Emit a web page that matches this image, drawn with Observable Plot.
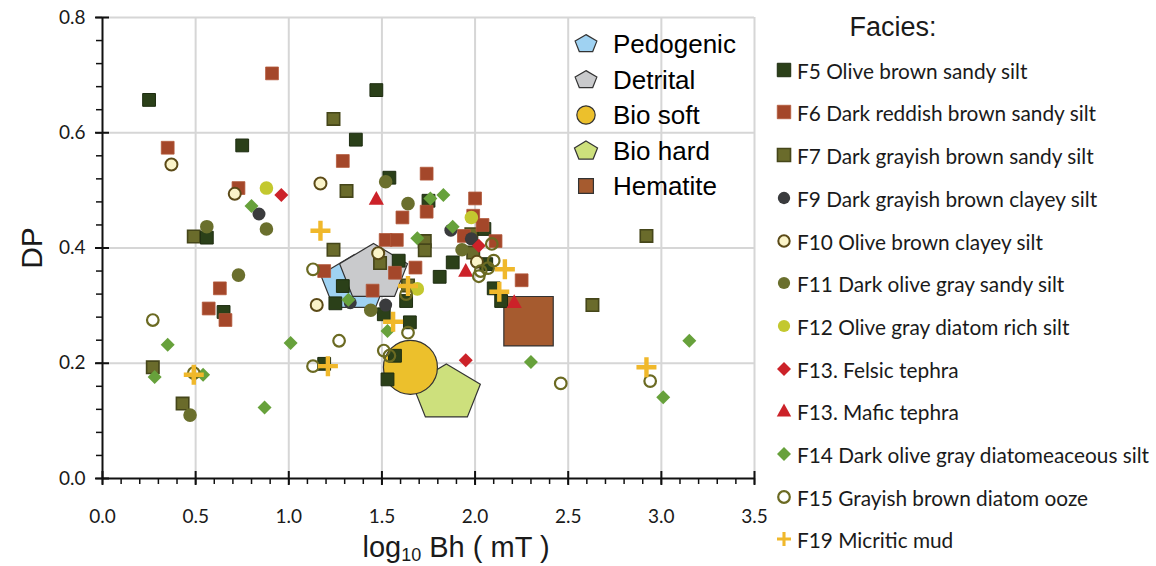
<!DOCTYPE html>
<html><head><meta charset="utf-8">
<script src="https://cdn.jsdelivr.net/npm/d3@7"></script>
<script src="https://cdn.jsdelivr.net/npm/@observablehq/plot@0.6"></script>
<style>
body{margin:0;background:#fff;}
#wrap{position:relative;width:1156px;height:566px;overflow:hidden;background:#fff;}
#wrap svg.plot{position:absolute;left:0;top:0;}
.lg{position:absolute;white-space:nowrap;}
.lg .mk{position:absolute;width:0;height:0;}
.lg .tx{position:absolute;transform:translateY(-50%);}
</style></head><body><div id="wrap"></div>
<script>
// ---------------- data ----------------
const F5 = [[0.25,0.657],[0.75,0.578],[1.36,0.588],[1.47,0.674],[1.54,0.522],[0.56,0.418],[0.65,0.289],[1.19,0.199],[1.29,0.334],[1.25,0.304],[1.59,0.378],[1.51,0.285],[1.63,0.308],[1.88,0.375],[1.81,0.350],[1.65,0.271],[1.57,0.213],[1.53,0.172],[1.75,0.482],[2.10,0.330],[2.14,0.308],[2.05,0.433],[2.06,0.372]];
const F6 = [[0.91,0.703],[0.35,0.574],[1.29,0.551],[0.73,0.504],[1.74,0.529],[1.61,0.453],[1.74,0.463],[2.00,0.486],[1.99,0.456],[2.04,0.440],[1.52,0.414],[1.58,0.414],[1.19,0.360],[1.68,0.366],[1.57,0.357],[1.45,0.326],[0.63,0.330],[0.57,0.295],[0.66,0.275],[1.94,0.421],[2.11,0.412],[2.25,0.344]];
const F7 = [[1.24,0.624],[1.31,0.499],[0.49,0.420],[1.24,0.397],[1.49,0.374],[1.73,0.412],[1.73,0.396],[1.64,0.335],[1.98,0.424],[1.99,0.392],[2.92,0.421],[2.63,0.301],[0.27,0.193],[0.43,0.130]];
const F9 = [[0.84,0.459],[1.33,0.305],[1.52,0.301],[1.87,0.431],[1.98,0.416]];
const F10 = [[0.37,0.545],[0.71,0.494],[1.17,0.512],[1.48,0.391],[1.15,0.301],[2.01,0.376]];
const F11 = [[0.56,0.437],[0.88,0.433],[0.73,0.353],[0.47,0.110],[1.52,0.515],[1.64,0.477],[1.44,0.292],[1.93,0.397]];
const F12 = [[0.88,0.504],[1.98,0.453],[1.69,0.329]];
const F13felsic = [[0.96,0.492],[2.02,0.404],[1.95,0.205]];
const F13mafic = [[1.47,0.485],[1.95,0.360],[2.21,0.306]];
const F14 = [[0.80,0.473],[1.76,0.486],[1.83,0.492],[1.88,0.437],[1.69,0.417],[1.32,0.310],[1.53,0.256],[0.35,0.232],[1.01,0.235],[0.28,0.176],[0.54,0.180],[0.87,0.123],[2.30,0.202],[3.15,0.239],[3.01,0.141]];
const F15 = [[0.27,0.275],[1.13,0.363],[1.27,0.239],[1.13,0.195],[0.49,0.183],[1.63,0.320],[1.64,0.253],[1.51,0.222],[1.54,0.213],[2.09,0.407],[2.10,0.378],[2.03,0.360],[2.02,0.351],[2.07,0.365],[2.46,0.165],[2.94,0.169]];
const F19 = [[1.17,0.430],[1.21,0.195],[0.49,0.180],[1.64,0.334],[1.56,0.272],[2.16,0.363],[2.13,0.324],[2.92,0.193]];

const pedogenic = [[1.353,0.338]];
const detrital = [[1.455,0.357]];
const bioSoft = [[1.653,0.193]];
const bioHard = [[1.846,0.148]];
const hematite = [[2.287,0.273]];

const xMajor = [0,0.5,1.0,1.5,2.0,2.5,3.0,3.5];
const xMinor = d3.range(0,36).map(i=>i/10);
const yMajor = [0,0.2,0.4,0.6,0.8];
const yMinor = d3.range(0,21).map(i=>i*0.04);

const faciesLabels = ["F5 Olive brown sandy silt","F6 Dark reddish brown sandy silt","F7 Dark grayish brown sandy silt","F9 Dark grayish brown clayey silt","F10 Olive brown clayey silt","F11 Dark olive gray sandy silt","F12 Olive gray diatom rich silt","F13. Felsic tephra","F13. Mafic tephra","F14 Dark olive gray diatomeaceous silt","F15 Grayish brown diatom ooze","F19 Micritic mud"];
const sourceLabels = ["Pedogenic","Detrital","Bio soft","Bio hard","Hematite"];

// ---------------- symbols ----------------
const R = s => Math.sqrt(s/Math.PI);
const symSquare = {draw(c,s){const r=R(s);c.rect(-r,-r,2*r,2*r);}};
const symDiamond = {draw(c,s){const r=R(s);c.moveTo(0,-r);c.lineTo(r,0);c.lineTo(0,r);c.lineTo(-r,0);c.closePath();}};
const symTri = {draw(c,s){const r=R(s);c.moveTo(0,-r);c.lineTo(r*0.95,r*0.72);c.lineTo(-r*0.95,r*0.72);c.closePath();}};
const symPent = {draw(c,s){const r=R(s);for(let k=0;k<5;k++){const a=(-90+72*k)*Math.PI/180;const px=r*Math.cos(a), py=r*0.82*Math.sin(a);k?c.lineTo(px,py):c.moveTo(px,py);}c.closePath();}};
const symPlus = {draw(c,s){const r=R(s), t=r*0.22;c.moveTo(-t,-r);c.lineTo(t,-r);c.lineTo(t,-t);c.lineTo(r,-t);c.lineTo(r,t);c.lineTo(t,t);c.lineTo(t,r);c.lineTo(-t,r);c.lineTo(-t,t);c.lineTo(-r,t);c.lineTo(-r,-t);c.lineTo(-t,-t);c.closePath();}};
const symCircle = {draw(c,s){const r=R(s);c.moveTo(r,0);c.arc(0,0,r,0,2*Math.PI);}};

const style = {
  F5:{symbol:symSquare,r:6.4,fill:"#2b4019",stroke:"#1d2c10",strokeWidth:1},
  F6:{symbol:symSquare,r:6.4,fill:"#a4472a",stroke:"#b2583a",strokeWidth:0.8},
  F7:{symbol:symSquare,r:6.2,fill:"#6a6b2b",stroke:"#45461a",strokeWidth:1.6},
  F9:{symbol:symCircle,r:6.5,fill:"#3a3b3d",stroke:"none",strokeWidth:0},
  F10:{symbol:symCircle,r:6,fill:"#fbf4c9",stroke:"#5b4a17",strokeWidth:2},
  F11:{symbol:symCircle,r:6.8,fill:"#6a6f2d",stroke:"none",strokeWidth:0},
  F12:{symbol:symCircle,r:6.8,fill:"#c3c82f",stroke:"none",strokeWidth:0},
  F13f:{symbol:symDiamond,r:7,fill:"#cc2229",stroke:"none",strokeWidth:0},
  F13m:{symbol:symTri,r:8,fill:"#cc2229",stroke:"none",strokeWidth:0},
  F14:{symbol:symDiamond,r:7,fill:"#67a13b",stroke:"none",strokeWidth:0},
  F15:{symbol:symCircle,r:5.8,fill:"none",stroke:"#6b6a22",strokeWidth:2.2},
  F19:{symbol:symPlus,r:10,fill:"#f0b82b",stroke:"none",strokeWidth:0}
};
const big = {
  Pedogenic:{symbol:symPent,r:35.7,fill:"#9fd2f2",stroke:"#333",strokeWidth:1.2},
  Detrital:{symbol:symPent,r:35.7,fill:"#c9cacc",stroke:"#333",strokeWidth:1.2},
  "Bio soft":{symbol:symCircle,r:27,fill:"#ecc02c",stroke:"#333",strokeWidth:1.2},
  "Bio hard":{symbol:symPent,r:35.7,fill:"#cde07c",stroke:"#333",strokeWidth:1.2},
  Hematite:{symbol:symSquare,r:24.7,fill:"#a65b2f",stroke:"#333",strokeWidth:1.2}
};

const dots = (data, st) => Plot.dot(data, {x: d=>d[0], y: d=>d[1], ...st});

// ---------------- plot ----------------
const plot = Plot.plot({
  width: 775, height: 566,
  marginLeft: 102, marginRight: 21, marginTop: 17, marginBottom: 88,
  x: {domain:[0,3.5]}, y: {domain:[0,0.8]},
  style: {fontFamily:"Lato, 'Open Sans', sans-serif", fontSize:"19px", color:"#1a1a1a", background:"#fff"},
  marks: [
    Plot.ruleX(xMajor.filter(d=>d>0), {stroke:"#d6d6d6", strokeWidth:2}),
    Plot.ruleY(yMajor.filter(d=>d>0), {stroke:"#d6d6d6", strokeWidth:2}),
    dots(pedogenic, big.Pedogenic),
    dots(detrital, big.Detrital),
    dots(bioHard, big["Bio hard"]),
    dots(bioSoft, big["Bio soft"]),
    dots(hematite, big.Hematite),
    dots(F7, style.F7),
    dots(F5, style.F5),
    dots(F6, style.F6),
    dots(F9, style.F9),
    dots(F10, style.F10),
    dots(F11, style.F11),
    dots(F12, style.F12),
    dots(F13felsic, style.F13f),
    dots(F13mafic, style.F13m),
    dots(F14, style.F14),
    dots(F15, style.F15),
    dots(F19, style.F19),
    Plot.ruleY([0], {stroke:"#111", strokeWidth:2}),
    Plot.ruleX([0], {stroke:"#111", strokeWidth:2}),
    Plot.ruleX(xMajor, {y1:0, y2:0, insetTop:-7, insetBottom:-7, stroke:"#111", strokeWidth:2}),
    Plot.ruleY(yMajor, {x1:0, x2:0, insetLeft:-7, insetRight:-7, stroke:"#111", strokeWidth:2}),
    Plot.axisX(xMinor, {tickSize:6, tickFormat:()=>"", label:null, stroke:"#111", strokeWidth:1.5}),
    Plot.axisX(xMajor, {tickSize:0, tickPadding:31, tickFormat:d=>d.toFixed(1), label:null, fontSize:19, fill:"#1a1a1a"}),
    Plot.axisY(yMinor, {tickSize:6, tickFormat:()=>"", label:null, stroke:"#111", strokeWidth:1.5}),
    Plot.axisY(yMajor, {tickSize:0, tickPadding:17, tickFormat:d=>d.toFixed(1), label:null, fontSize:19, fill:"#1a1a1a"})
  ]
});
plot.classList.add("plot");
const wrap = document.getElementById("wrap");
wrap.appendChild(plot);

// ---------------- titles & legends ----------------
function icon(st, scale){
  const r = st.r*(scale||1);
  const p = d3.symbol().type(st.symbol).size(Math.PI*r*r)();
  return `<svg width="40" height="40" style="position:absolute;left:-20px;top:-20px;overflow:visible"><path transform="translate(20,20)" d="${p}" fill="${st.fill}" stroke="${st.stroke}" stroke-width="${st.strokeWidth}"/></svg>`;
}
function addItem(x, y, st, scale, text, font, tx){
  const d = document.createElement("div");
  d.className = "lg";
  d.style.left = x+"px"; d.style.top = y+"px";
  d.innerHTML = `<div class="mk">${icon(st, scale)}</div><div class="tx" style="left:${tx}px;font:${font}">${text}</div>`;
  wrap.appendChild(d);
}
// axis titles
const xt = document.createElement("div");
xt.className="lg";
xt.style.cssText = "left:456px;top:548px;transform:translate(-50%,-50%);font:29px 'Liberation Sans',Arial,sans-serif;color:#1a1a1a";
xt.innerHTML = "log<sub style='font-size:18px;vertical-align:-4px'>10</sub> Bh ( mT )";
wrap.appendChild(xt);
const yt = document.createElement("div");
yt.className="lg";
yt.style.cssText = "left:32px;top:248px;transform:translate(-50%,-50%) rotate(-90deg);font:30px 'Liberation Sans',Arial,sans-serif;color:#1a1a1a";
yt.textContent = "DP";
wrap.appendChild(yt);

// inner legend
const srcStyles = [big.Pedogenic, big.Detrital, big["Bio soft"], big["Bio hard"], big.Hematite];
const srcScale = [0.32, 0.32, 0.34, 0.34, 0.3];
sourceLabels.forEach((t,i)=>{
  addItem(586, 44 + i*35.5, srcStyles[i], srcScale[i], t, "26px 'Liberation Sans',Arial,sans-serif", 27);
});

// facies legend
const fh = document.createElement("div");
fh.className="lg";
fh.style.cssText = "left:893px;top:27px;transform:translate(-50%,-50%);font:27px 'Liberation Sans',Arial,sans-serif;color:#1a1a1a";
fh.textContent = "Facies:";
wrap.appendChild(fh);
const fStyles = [style.F5,style.F6,style.F7,style.F9,style.F10,style.F11,style.F12,style.F13f,style.F13m,style.F14,style.F15,style.F19];
const fScale = [1.05,1.05,1.05,0.95,0.95,0.9,0.9,1,0.95,1,1,0.7];
faciesLabels.forEach((t,i)=>{
  addItem(784, 69.7 + i*42.7, fStyles[i], fScale[i], t, "20.8px Lato,'Open Sans',sans-serif;color:#1a1a1a", 13);
});
</script></body></html>
